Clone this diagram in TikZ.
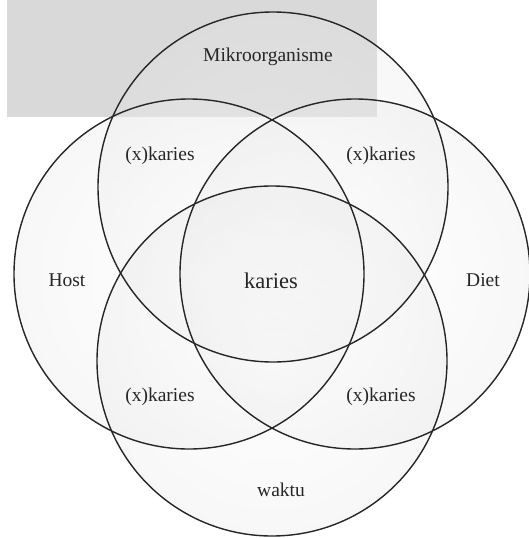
\documentclass[tikz,border=0pt]{standalone}
\usepackage{fontspec}
\setmainfont{Liberation Serif}
\begin{document}
\begin{tikzpicture}[
	x=1pt, y=-1pt,
	ring/.style={
		circle,
		draw=black!85,
		line width=1.4pt,
		minimum size=350pt,
		inner sep=0pt,
	},
	glow/.style={% faint grey edge inside each circle
		circle,
		minimum size=350pt,
		inner sep=0pt,
		shading=radial,
		inner color=white,
		outer color=black!10,
		fill opacity=0.3,
	},
	txt/.style={
		anchor=base,
		text=black!85,
		font=\fontsize{19.5}{23}\selectfont,
	},
]
	\useasboundingbox (0,0) rectangle (528,538);
	\fill [black!15] (7,0) rectangle (377,117);

	\node [glow] (gmikro) at (273,187) {};
	\node [glow] (ghost) at (189,274) {};
	\node [glow] (gdiet) at (355,274) {};
	\node [glow] (gwaktu) at (272,361) {};

	\node [ring] (mikro) at (273,187) {};
	\node [ring] (host) at (189,274) {};
	\node [ring] (diet) at (355,274) {};
	\node [ring] (waktu) at (272,361) {};

	\node [txt] (lmikro) at (268,61) {Mikroorganisme};
	\node [txt] (lhost) at (67,286) {Host};
	\node [txt] (ldiet) at (483,286) {Diet};
	\node [txt] (lwaktu) at (281,496) {waktu};
	\node [txt, font=\fontsize{22.5}{26}\selectfont] (karies) at (271,288) {karies};

	\node [txt] (xk1) at (160,160) {(x)karies};
	\node [txt] (xk2) at (381,160) {(x)karies};
	\node [txt] (xk3) at (160,401) {(x)karies};
	\node [txt] (xk4) at (381,401) {(x)karies};
\end{tikzpicture}
\end{document}
